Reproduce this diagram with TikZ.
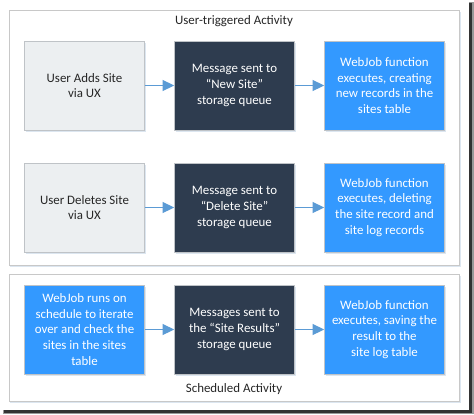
\documentclass[tikz,border=0pt]{standalone}
\usepackage{fontspec}
\setmainfont{Carlito}
\usepackage{tikz}
\usetikzlibrary{shapes.misc, arrows.meta, shadows}

\definecolor{usergray}{HTML}{ECEFF1}
\definecolor{queuedark}{HTML}{2E3C4F}
\definecolor{jobblue}{HTML}{3399FF}
\definecolor{boxedge}{HTML}{BFC3C7}
\definecolor{paneledge}{HTML}{C8C8C8}
\definecolor{arrowblue}{HTML}{5B9BD5}
\definecolor{shadowblue}{HTML}{DCE6F0}
\definecolor{textdark}{HTML}{262626}

\begin{document}
\begin{tikzpicture}[x=1pt, y=-1pt, node distance=150pt, every node/.style={font=\fontsize{12.9}{15.8}\selectfont}]
% Styles
\tikzstyle{userbox} = [rectangle, minimum width=120pt, minimum height=89pt, text centered, draw=boxedge, line width=0.8pt, fill=usergray, text=textdark, align=center, inner sep=0pt, drop shadow={shadow xshift=1.2pt, shadow yshift=-1.5pt, fill=shadowblue, opacity=1}]
\tikzstyle{queuebox} = [rectangle, minimum width=120pt, minimum height=89pt, text centered, draw=boxedge, line width=0.8pt, fill=queuedark, text=white, align=center, inner sep=0pt, drop shadow={shadow xshift=1.2pt, shadow yshift=-1.5pt, fill=shadowblue, opacity=1}]
\tikzstyle{jobbox} = [rectangle, minimum width=120pt, minimum height=89pt, text centered, draw=boxedge, line width=0.8pt, fill=jobblue, text=white, align=center, inner sep=0pt, drop shadow={shadow xshift=1.2pt, shadow yshift=-1.5pt, fill=shadowblue, opacity=1}]
\tikzstyle{panel} = [draw=paneledge, line width=0.8pt, fill=white]
\tikzstyle{arrow} = [line width=1.3pt, draw=arrowblue, fill=arrowblue, -{Triangle[length=11.5pt, width=11pt]}]

\useasboundingbox (0,0) rectangle (474,415);
\fill[black!40] (3,2) rectangle (474,414);
\fill[black!80] (4,3) rectangle (472,412.5);
\fill[white] (0,0) rectangle (469,410);

\fill[shadowblue] (10,11.5) rectangle (460.5,266.5);
\fill[shadowblue] (10,275.5) rectangle (460.5,403.2);
\draw[panel] (9,10) rectangle (459.3,265);
\draw[panel] (9,274) rectangle (459.3,401.7);

\node (usertitle) [text=textdark] at (234,21) {User-triggered Activity};
\node (schedtitle) [text=textdark] at (234,389.5) {Scheduled Activity};

\node (adds) [userbox] at (84.5,85.5) {User Adds Site\\via UX};
\node (newmsg) [queuebox, right of=adds] {Message sent to\\“New Site”\\storage queue};
\node (newjob) [jobbox, right of=newmsg] {WebJob function\\executes, creating\\new records in the\\sites table};

\node (deletes) [userbox, below of=adds, yshift=28pt] {User Deletes Site\\via UX};
\node (delmsg) [queuebox, right of=deletes] {Message sent to\\“Delete Site”\\storage queue};
\node (deljob) [jobbox, right of=delmsg] {WebJob function\\executes, deleting\\the site record and\\site log records};

\node (schedule) [jobbox, below of=deletes, yshift=28pt] {WebJob runs on\\schedule to iterate\\over and check the\\sites in the sites\\table};
\node (resmsg) [queuebox, right of=schedule] {Messages sent to\\the “Site Results”\\storage queue};
\node (resjob) [jobbox, right of=resmsg] {WebJob function\\executes, saving the\\result to the\\site log table};

\draw [arrow] (adds) -- (newmsg);
\draw [arrow] (newmsg) -- (newjob);
\draw [arrow] (deletes) -- (delmsg);
\draw [arrow] (delmsg) -- (deljob);
\draw [arrow] (schedule) -- (resmsg);
\draw [arrow] (resmsg) -- (resjob);

\end{tikzpicture}
\end{document}
